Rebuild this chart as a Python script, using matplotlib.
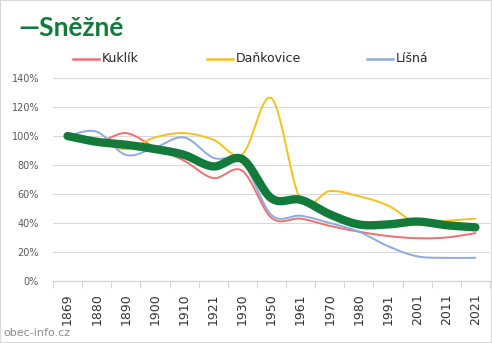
# Population index of Sněžné and neighbouring villages, smoothed lines like Excel
import numpy as np
import matplotlib.pyplot as plt
from matplotlib.lines import Line2D
from matplotlib.patches import Rectangle

years = ["1869", "1880", "1890", "1900", "1910", "1921", "1930", "1950",
         "1961", "1970", "1980", "1991", "2001", "2011", "2021"]

# values in percent of 1869
snezne = [100, 96, 94, 91, 87, 79, 84, 57, 56, 46, 39, 39, 41, 38.5, 37]
kuklik = [100, 95.5, 102, 92, 83, 71, 76, 43.5, 43, 38, 34, 31, 29.5, 30, 33]
dankovice = [100, 97, 91, 99, 102, 97.5, 87.5, 126, 56, 62, 58.5, 52, 40, 41.5, 43]
lisna = [100, 103, 87, 92, 99, 85, 82, 45.5, 45, 40, 34, 24, 17, 16, 16]

yticks = [0, 20, 40, 60, 80, 100, 120, 140]


def smooth(values, steps=30):
    """Catmull-Rom style bezier through the points (Excel's smoothed line)."""
    pts = np.column_stack([np.arange(len(values)), values]).astype(float)
    padded = np.vstack([pts[0], pts, pts[-1]])
    t = np.linspace(0, 1, steps)[:, None]
    out = []
    for i in range(len(pts) - 1):
        p0, p1, p2, p3 = padded[i], padded[i + 1], padded[i + 2], padded[i + 3]
        c1 = p1 + (p2 - p0) / 6
        c2 = p2 - (p3 - p1) / 6
        seg = ((1 - t) ** 3) * p1 + 3 * ((1 - t) ** 2) * t * c1 \
            + 3 * (1 - t) * t ** 2 * c2 + t ** 3 * p2
        out.append(seg if i == 0 else seg[1:])
    seg = np.vstack(out)
    return seg[:, 0], seg[:, 1]


W, H = 492, 343
fig = plt.figure(figsize=(W / 100, H / 100), dpi=100)
ax = fig.add_axes([53 / W, 1 - 281 / H, 437 / W, 203 / H])

series = [
    (kuklik, "#EE7072", "Kuklík", 73),
    (dankovice, "#F5C21B", "Daňkovice", 207),
    (lisna, "#8FAADC", "Líšná", 367),
]

for vals, color, label, _ in series:
    x, y = smooth(vals)
    ax.plot(x, y, color=color, lw=1.4, solid_capstyle="round", zorder=3)

x, y = smooth(snezne)
ax.plot(x, y, color="#127A3A", lw=6, solid_capstyle="round", zorder=4)

ax.set_xlim(-0.5, len(years) - 0.5)
ax.set_ylim(0, 140)
ax.set_yticks(yticks)
ax.set_yticklabels([f"{v}%" for v in yticks], fontsize=7, color="#595959")
ax.set_xticks(range(len(years)))
ax.set_xticklabels(years, rotation=90, fontsize=9, color="#333333")
ax.set_xticks(np.arange(-0.5, len(years)), minor=True)
ax.tick_params(axis="x", which="major", length=0, pad=9)
ax.tick_params(axis="x", which="minor", length=5, color="#d0d0d0")
ax.tick_params(axis="y", length=0, pad=10)
ax.grid(axis="y", color="#d9d9d9", lw=0.8)
ax.set_axisbelow(True)
for side in ["top", "right", "left"]:
    ax.spines[side].set_visible(False)
ax.spines["bottom"].set_color("#d0d0d0")

# legend drawn by hand to match the spacing of the original
ly = 1 - 59 / H
for vals, color, label, lx in series:
    fig.add_artist(Line2D([lx / W, (lx + 26) / W], [ly, ly], color=color, lw=1.8))
    fig.text((lx + 29) / W, ly, label, fontsize=9, color="#262626", va="center")

fig.text(18 / W, 1 - 28 / H, "—Sněžné", fontsize=19, fontweight="bold",
         color="#127A3A", family="Lato", va="center")
fig.text(3 / W, 1 - 333 / H, "obec-info.cz", fontsize=8, color="#8c8c8c",
         va="center")

fig.patches.append(Rectangle((0, 0), 1, 1, transform=fig.transFigure,
                             fill=False, edgecolor="#d9d9d9", lw=1.5))

fig.savefig("out.png", dpi=100)
